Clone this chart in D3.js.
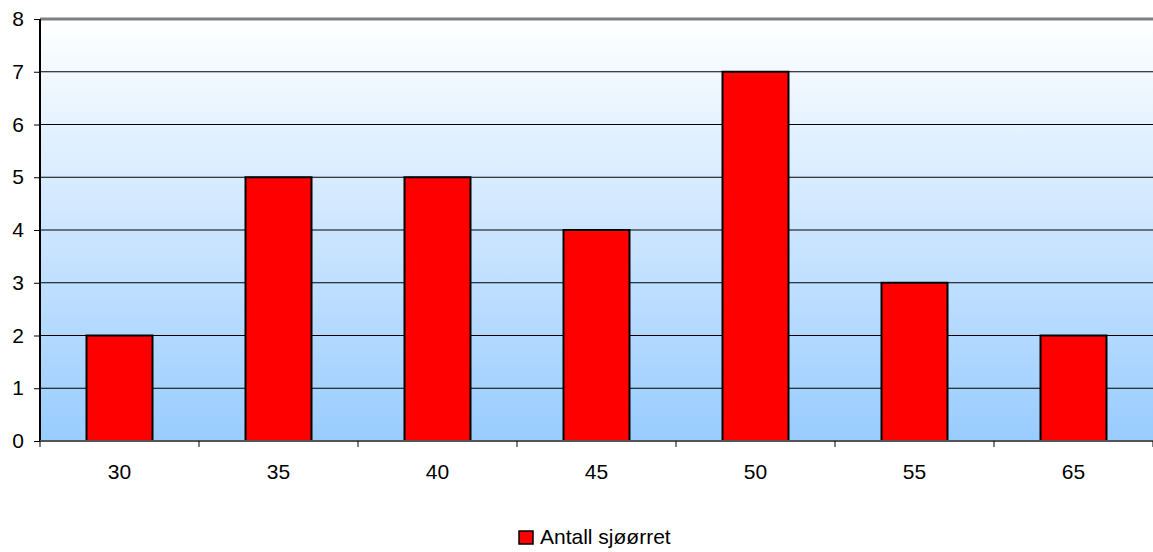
<!DOCTYPE html>
<html>
<head>
<meta charset="utf-8">
<script src="https://cdn.jsdelivr.net/npm/d3@7"></script>
<style>
  body { margin: 0; background: #fff; }
  text { font-family: Arial, "Liberation Sans", sans-serif; }
</style>
</head>
<body>
<script>
// lengths (cm) and counts of sea trout
const categories = ["30", "35", "40", "45", "50", "55", "65"];
const counts = [2, 5, 5, 4, 7, 3, 2];
const yTicks = [0, 1, 2, 3, 4, 5, 6, 7, 8];
const seriesName = "Antall sjøørret";

const width = 1153, height = 552;
const plotLeft = 40, plotTop = 19, plotRight = 1153, plotBottom = 441;

let svg = d3.select("body")
            .append("svg")
            .attr("width", width)
            .attr("height", height);

let grad = svg.append("defs").append("linearGradient")
              .attr("id", "bg")
              .attr("x1", 0).attr("y1", 0).attr("x2", 0).attr("y2", 1);
grad.append("stop").attr("offset", "0%").attr("stop-color", "#ffffff");
grad.append("stop").attr("offset", "100%").attr("stop-color", "#99ccff");

let x = d3.scaleBand()
          .domain(categories)
          .range([plotLeft, plotRight])
          .paddingInner(0.585)
          .paddingOuter(0.2925);

let y = d3.scaleLinear()
          .domain([0, 8])
          .range([plotBottom, plotTop]);

// plot background
svg.append("rect")
   .attr("x", plotLeft).attr("y", plotTop)
   .attr("width", plotRight - plotLeft).attr("height", plotBottom - plotTop)
   .style("fill", "url(#bg)");

// gridlines
svg.append("g")
   .selectAll("line")
   .data(yTicks.filter(d => d > 0 && d < 8))
   .enter()
   .append("line")
   .attr("x1", plotLeft).attr("x2", plotRight)
   .attr("y1", d => y(d)).attr("y2", d => y(d))
   .style("stroke", "#000")
   .style("stroke-width", 1);

// top border
svg.append("line")
   .attr("x1", plotLeft).attr("x2", plotRight)
   .attr("y1", plotTop).attr("y2", plotTop)
   .style("stroke", "#808080")
   .style("stroke-width", 3);

// bars
svg.append("g")
   .selectAll("rect")
   .data(counts)
   .enter()
   .append("rect")
   .attr("x", (d, i) => x(categories[i]))
   .attr("y", d => y(d))
   .attr("width", x.bandwidth())
   .attr("height", d => plotBottom - y(d))
   .style("fill", "#ff0000")
   .style("stroke", "#000")
   .style("stroke-width", 2);

// y axis
let yAxis = svg.append("g")
   .attr("transform", `translate(${plotLeft},0)`)
   .call(d3.axisLeft(y).tickValues(yTicks).tickSize(6).tickPadding(10).tickFormat(d3.format("d")));
yAxis.select(".domain").style("stroke", "#000").style("stroke-width", 2).attr("d", `M0,${plotTop}V${plotBottom}`);
yAxis.selectAll(".tick line").style("stroke", "#000");
yAxis.selectAll("text").style("font-size", "21px").style("font-family", "Arial, 'Liberation Sans', sans-serif").style("fill", "#000");

// x axis
let xEdges = d3.scaleLinear().domain([0, categories.length]).range([plotLeft, plotRight]);
let xAxis = svg.append("g")
   .attr("transform", `translate(0,${plotBottom})`);
xAxis.append("line")
     .attr("x1", plotLeft).attr("x2", plotRight)
     .style("stroke", "#555")
     .style("stroke-width", 2);
xAxis.selectAll(".tk")
     .data(d3.range(categories.length + 1))
     .enter()
     .append("line")
     .attr("x1", d => xEdges(d)).attr("x2", d => xEdges(d))
     .attr("y1", 0).attr("y2", 6)
     .style("stroke", "#000");
xAxis.selectAll("text")
     .data(categories)
     .enter()
     .append("text")
     .attr("x", d => x(d) + x.bandwidth() / 2)
     .attr("y", 38)
     .style("text-anchor", "middle")
     .style("font-size", "21px")
     .text(d => d);

// legend
let legend = svg.append("g").attr("transform", "translate(519,531)");
legend.append("rect")
      .attr("width", 14).attr("height", 13)
      .style("fill", "#ff0000")
      .style("stroke", "#000")
      .style("stroke-width", 1.5);
legend.append("text")
      .attr("x", 21).attr("y", 13)
      .style("font-size", "21px")
      .text(seriesName);
</script>
</body>
</html>
